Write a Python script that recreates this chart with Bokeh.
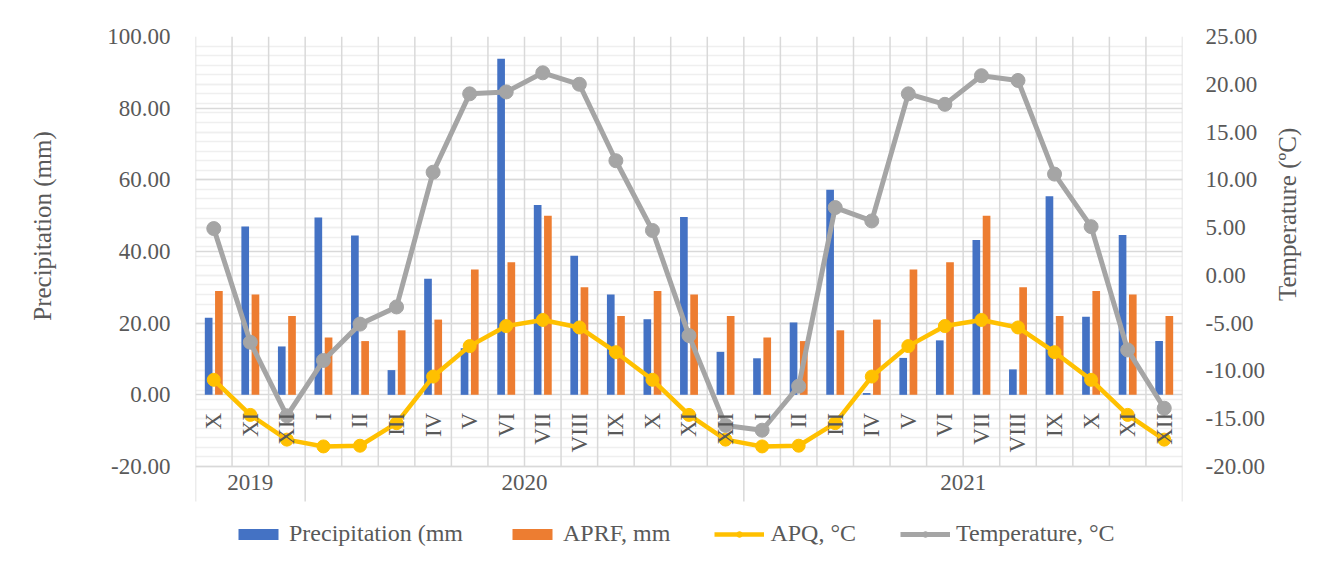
import math
from bokeh.plotting import figure
from bokeh.models import (Range1d, LinearAxis, FixedTicker, NumeralTickFormatter,
                          Grid, Legend, LegendItem, ColumnDataSource)
from bokeh.core.properties import value
from bokeh.transform import dodge
from bokeh.embed import file_html
from bokeh.resources import INLINE

# ---------------- data ----------------
months = ["X", "XI", "XII",
          "I", "II", "III", "IV", "V", "VI", "VII", "VIII", "IX", "X", "XI", "XII",
          "I", "II", "III", "IV", "V", "VI", "VII", "VIII", "IX", "X", "XI", "XII"]
years = ["2019", "2020", "2021"]
year_counts = [3, 12, 12]

precipitation = [21.5, 47.0, 13.5,
                 49.5, 44.5, 6.9, 32.4, 13.0, 93.8, 53.0, 38.8, 28.0, 21.1, 49.6, 12.0,
                 10.2, 20.2, 57.2, 0.5, 10.3, 15.2, 43.2, 7.1, 55.4, 21.8, 44.6, 15.0]
aprf = [29, 28, 22,
        16, 15, 18, 21, 35, 37, 50, 30, 22, 29, 28, 22,
        16, 15, 18, 21, 35, 37, 50, 30, 22, 29, 28, 22]
apq = [4.2, -5.6, -12.5,
       -14.4, -14.2, -7.9, 5.1, 13.6, 19.2, 20.9, 18.8, 11.9, 4.2, -5.6, -12.5,
       -14.4, -14.2, -7.9, 5.1, 13.6, 19.2, 20.9, 18.8, 11.9, 4.2, -5.6, -12.5]
temperature = [4.9, -7.0, -14.7,
               -8.9, -5.1, -3.3, 10.8, 19.0, 19.2, 21.2, 20.0, 12.0, 4.7, -6.3, -15.7,
               -16.2, -11.6, 7.1, 5.7, 19.0, 17.9, 20.9, 20.4, 10.6, 5.1, -7.8, -13.9]

left_ticks = [-20, 0, 20, 40, 60, 80, 100]
right_ticks = [-20, -15, -10, -5, 0, 5, 10, 15, 20, 25]
left_title = "Precipitation (mm)"
right_title = "Temperature (ºC)"

# ---------------- style / layout ----------------
FONT = "Liberation Serif"
TXT = "#595959"
GRID = "#d9d9d9"
BLUE, ORANGE, YELLOW, GREY = "#4472C4", "#ED7D31", "#FFC000", "#A5A5A5"

PLOT_H = 430          # pixel height of the value area (-20 .. 100)
FRAME_H = 529         # frame continues below for the year row and legend
FRAME_W = 987
lo, hi = left_ticks[0], left_ticks[-1]
rlo, rhi = right_ticks[0], right_ticks[-1]
px = (hi - lo) / PLOT_H                     # data units per pixel (left scale)
ext = (FRAME_H - PLOT_H) * px               # extra data units below -20
rext = ext * (rhi - rlo) / (hi - lo)

NBSP = "\u00a0"
LEFT_PAD = 24    # shift left title up along its axis

n = len(months)
idx = list(range(n))
src = ColumnDataSource(dict(x=idx, precipitation=precipitation, aprf=aprf,
                            apq=apq, temperature=temperature))

p = figure(frame_width=FRAME_W, frame_height=FRAME_H, output_backend="svg",
           toolbar_location=None,
           x_range=Range1d(-0.5, n - 0.5), y_range=Range1d(lo - ext, hi),
           min_border_left=195, min_border_right=145, min_border_top=36, min_border_bottom=0)
p.extra_y_ranges = {"temp": Range1d(rlo - rext, rhi)}
p.outline_line_color = None

# grids
p.xgrid.visible = False
p.ygrid.ticker = FixedTicker(ticks=left_ticks)
p.ygrid.grid_line_color = GRID
p.ygrid.grid_line_width = 1.5

rgrid = Grid(dimension=1, y_range_name="temp",
             ticker=FixedTicker(ticks=right_ticks,
                                minor_ticks=list(range(rlo, rhi + 1))),
             grid_line_color="#efefef", grid_line_width=1.5,
             minor_grid_line_color="#efefef", minor_grid_line_width=1.5)
p.renderers.insert(0, rgrid)

# vertical category boundaries (value area only)
cat_bounds = [i - 0.5 for i in range(n + 1)]
p.segment(x0=cat_bounds, x1=cat_bounds, y0=[lo] * len(cat_bounds), y1=[hi] * len(cat_bounds),
          line_color=GRID, line_width=1.5, level="underlay")

# year separators and labels (below the value area)
ybounds = [-0.5]
for c in year_counts:
    ybounds.append(ybounds[-1] + c)
ycenters = [(ybounds[k] + ybounds[k + 1]) / 2 for k in range(len(years))]
sep_bottom = lo - 35 * px
p.segment(x0=ybounds, x1=ybounds, y0=[lo] * len(ybounds), y1=[sep_bottom] * len(ybounds),
          line_color=GRID, line_width=1.5, level="underlay")
p.text(x=ycenters, y=[lo - 16 * px] * len(years), text=years,
       text_font=value(FONT), text_font_size="23px", text_color=TXT,
       text_align="center", text_baseline="middle")

# left axis
la = p.yaxis[0]
la.ticker = FixedTicker(ticks=left_ticks)
la.formatter = NumeralTickFormatter(format="0.00")
la.axis_label = NBSP * LEFT_PAD + left_title

# right axis (title reads bottom to top)
ra = LinearAxis(y_range_name="temp", ticker=FixedTicker(ticks=right_ticks),
                formatter=NumeralTickFormatter(format="0.00"),
                axis_label=right_title)
ra.axis_label_orientation = math.pi / 2
p.add_layout(ra, "right")

for ax, standoff, title_standoff in ((la, 25, 48), (ra, 23, 20)):
    ax.axis_line_color = None
    ax.major_tick_line_color = None
    ax.minor_tick_line_color = None
    ax.major_tick_out = 0
    ax.major_tick_in = 0
    ax.minor_tick_out = 0
    ax.minor_tick_in = 0
    ax.major_label_standoff = standoff
    ax.major_label_text_font = FONT
    ax.major_label_text_font_size = "23px"
    ax.major_label_text_color = TXT
    ax.axis_label_text_font = FONT
    ax.axis_label_text_font_size = "25px"
    ax.axis_label_text_font_style = "normal"
    ax.axis_label_text_color = TXT
    ax.axis_label_standoff = title_standoff

# month axis at y = 0
ma = p.xaxis[0]
ma.ticker = FixedTicker(ticks=idx)
ma.major_label_overrides = {i: m for i, m in enumerate(months)}
ma.fixed_location = 0
ma.major_label_orientation = math.pi / 2
ma.axis_line_color = None
ma.major_tick_line_color = None
ma.minor_tick_line_color = None
ma.major_tick_out = 0
ma.major_tick_in = 0
ma.minor_tick_out = 0
ma.minor_tick_in = 0
ma.major_label_standoff = 18
ma.major_label_text_font = FONT
ma.major_label_text_font_size = "23px"
ma.major_label_text_color = TXT

# glyphs
rb = p.vbar(x=dodge("x", -0.14, range=p.x_range), top="precipitation", width=0.21,
            source=src, fill_color=BLUE, line_color=None)
ro = p.vbar(x=dodge("x", 0.14, range=p.x_range), top="aprf", width=0.21,
            source=src, fill_color=ORANGE, line_color=None)
yl = p.line("x", "apq", source=src, line_color=YELLOW, line_width=4.5)
ys = p.scatter("x", "apq", source=src, size=13, fill_color=YELLOW, line_color=YELLOW)
gl = p.line("x", "temperature", source=src, y_range_name="temp", line_color=GREY, line_width=5)
gs = p.scatter("x", "temperature", source=src, y_range_name="temp", size=14,
               fill_color=GREY, line_color=GREY)

legend = Legend(items=[LegendItem(label="Precipitation (mm", renderers=[rb]),
                       LegendItem(label="APRF, mm", renderers=[ro]),
                       LegendItem(label="APQ, °C", renderers=[yl, ys]),
                       LegendItem(label="Temperature, °C", renderers=[gl, gs])],
                orientation="horizontal", location=(38, 18),
                glyph_width=50, glyph_height=14, spacing=44, label_standoff=6,
                label_text_font=FONT, label_text_font_size="24px", label_text_color=TXT,
                border_line_color=None, background_fill_alpha=0, padding=4, margin=0)
p.add_layout(legend)

open("out.html", "w").write(file_html(p, INLINE))
